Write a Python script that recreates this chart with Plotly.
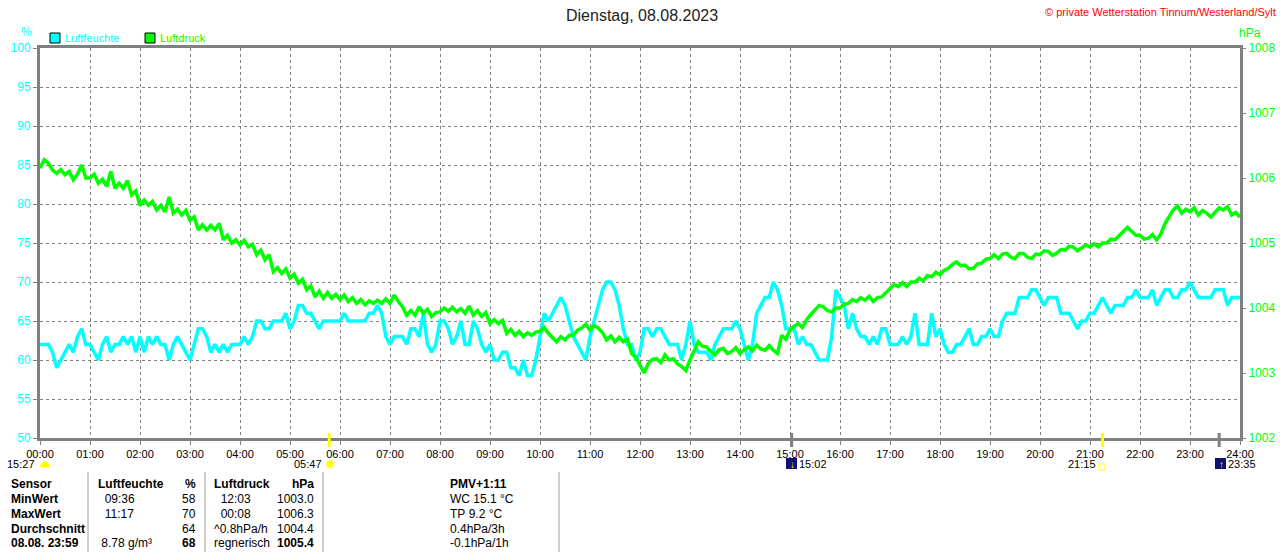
import plotly.graph_objects as go

# Luftfeuchte in %, alle 5 Minuten (00:00 .. 24:00)
humidity = [
    62, 62, 62, 61, 59, 60, 61, 62, 61, 63, 64, 62,
    62, 61, 60, 62, 63, 61, 62, 62, 63, 62, 63, 61,
    63, 61, 63, 62, 63, 62, 62, 60, 62, 63, 62, 61,
    60, 62, 64, 64, 63, 61, 62, 61, 62, 61, 62, 62,
    62, 63, 62, 63, 65, 65, 64, 64, 65, 65, 65, 66,
    64, 65, 67, 67, 66, 66, 65, 64, 65, 65, 65, 65,
    65, 66, 65, 65, 65, 65, 65, 66, 66, 67, 66, 63,
    62, 63, 63, 63, 62, 64, 64, 63, 66, 62, 61, 62,
    65, 65, 64, 62, 63, 65, 62, 62, 65, 64, 62, 61,
    62, 60, 60, 61, 61, 59, 59, 58, 60, 58, 58, 60,
    63, 66, 65, 66, 67, 68, 67, 65, 63, 62, 61, 60,
    63, 65, 67, 69, 70, 70, 69, 67, 64, 62, 62, 60,
    61, 64, 64, 63, 64, 64, 63, 62, 62, 62, 60, 62,
    65, 62, 61, 61, 61, 60, 62, 63, 64, 64, 64, 65,
    64, 62, 60, 62, 66, 67, 68, 68, 70, 69, 67, 64,
    64, 64, 62, 63, 62, 62, 61, 60, 60, 60, 63, 69,
    68, 67, 64, 66, 64, 63, 63, 62, 63, 62, 64, 64,
    62, 62, 62, 63, 62, 63, 66, 62, 62, 62, 66, 63,
    64, 62, 61, 61, 62, 62, 63, 64, 62, 62, 63, 63,
    64, 63, 63, 65, 66, 66, 66, 68, 68, 68, 69, 69,
    68, 67, 68, 68, 68, 66, 66, 66, 65, 64, 65, 65,
    66, 66, 67, 68, 67, 66, 67, 67, 67, 68, 68, 69,
    68, 68, 68, 69, 67, 68, 69, 69, 68, 68, 69, 69,
    70, 69, 68, 68, 68, 68, 69, 69, 69, 67, 68, 68,
    68,
]

# Luftdruck in hPa, alle 5 Minuten (00:00 .. 24:00)
pressure = [
    1006.15, 1006.28, 1006.23, 1006.12, 1006.07, 1006.13, 1006.05, 1006.10, 1005.97, 1006.06, 1006.20, 1006.00,
    1006.00, 1006.06, 1005.92, 1005.98, 1005.87, 1006.10, 1005.84, 1005.92, 1005.84, 1005.96, 1005.74, 1005.80,
    1005.58, 1005.66, 1005.58, 1005.64, 1005.51, 1005.58, 1005.48, 1005.71, 1005.46, 1005.52, 1005.43, 1005.50,
    1005.35, 1005.40, 1005.20, 1005.28, 1005.20, 1005.27, 1005.20, 1005.30, 1005.05, 1005.12, 1005.00, 1005.05,
    1004.97, 1005.04, 1004.94, 1004.98, 1004.82, 1004.89, 1004.74, 1004.82, 1004.56, 1004.62, 1004.53, 1004.60,
    1004.46, 1004.52, 1004.38, 1004.44, 1004.28, 1004.34, 1004.17, 1004.26, 1004.15, 1004.24, 1004.15, 1004.21,
    1004.13, 1004.20, 1004.10, 1004.16, 1004.07, 1004.13, 1004.05, 1004.11, 1004.07, 1004.12, 1004.07, 1004.14,
    1004.07, 1004.20, 1004.10, 1004.02, 1003.89, 1003.96, 1003.89, 1004.02, 1003.92, 1003.98, 1003.87, 1003.93,
    1003.94, 1004.00, 1003.95, 1004.01, 1003.94, 1003.99, 1003.92, 1004.03, 1003.89, 1003.96, 1003.87, 1003.93,
    1003.76, 1003.82, 1003.76, 1003.81, 1003.61, 1003.67, 1003.58, 1003.64, 1003.56, 1003.62, 1003.58, 1003.63,
    1003.64, 1003.70, 1003.61, 1003.55, 1003.48, 1003.56, 1003.51, 1003.58, 1003.58, 1003.66, 1003.69, 1003.75,
    1003.66, 1003.73, 1003.69, 1003.62, 1003.51, 1003.57, 1003.48, 1003.55, 1003.48, 1003.52, 1003.30, 1003.24,
    1003.12, 1003.00, 1003.15, 1003.21, 1003.22, 1003.16, 1003.28, 1003.20, 1003.22, 1003.14, 1003.10, 1003.04,
    1003.20, 1003.35, 1003.48, 1003.41, 1003.40, 1003.33, 1003.28, 1003.36, 1003.38, 1003.30, 1003.33, 1003.39,
    1003.30, 1003.36, 1003.40, 1003.34, 1003.43, 1003.37, 1003.35, 1003.42, 1003.35, 1003.30, 1003.58, 1003.52,
    1003.66, 1003.72, 1003.76, 1003.70, 1003.82, 1003.90, 1003.97, 1004.04, 1004.02, 1003.96, 1003.94, 1004.00,
    1004.00, 1004.06, 1004.07, 1004.13, 1004.10, 1004.16, 1004.12, 1004.18, 1004.10, 1004.16, 1004.17, 1004.24,
    1004.30, 1004.36, 1004.33, 1004.39, 1004.33, 1004.40, 1004.40, 1004.46, 1004.42, 1004.50, 1004.48, 1004.55,
    1004.51, 1004.58, 1004.61, 1004.67, 1004.71, 1004.65, 1004.66, 1004.60, 1004.61, 1004.68, 1004.69, 1004.75,
    1004.76, 1004.82, 1004.76, 1004.83, 1004.84, 1004.78, 1004.76, 1004.84, 1004.84, 1004.78, 1004.76, 1004.83,
    1004.82, 1004.88, 1004.87, 1004.81, 1004.84, 1004.90, 1004.89, 1004.95, 1004.94, 1004.88, 1004.92, 1004.97,
    1004.94, 1004.99, 1004.94, 1005.00, 1005.00, 1005.06, 1005.05, 1005.11, 1005.18, 1005.24, 1005.18, 1005.12,
    1005.12, 1005.06, 1005.07, 1005.13, 1005.05, 1005.14, 1005.30, 1005.40, 1005.51, 1005.57, 1005.46, 1005.52,
    1005.48, 1005.54, 1005.43, 1005.50, 1005.46, 1005.40, 1005.48, 1005.54, 1005.51, 1005.56, 1005.43, 1005.47,
    1005.40,
]

hour_ticks = list(range(25))
hour_labels = ["%02d:00" % h for h in hour_ticks]

# Sonne / Mond Ereignisse an der Zeitachse (Stunde)
event_hours = [5 + 47 / 60, 15 + 2 / 60, 21 + 15 / 60, 23 + 35 / 60]

# Tabelle unten
table_rows = [
    ["Sensor", "Luftfeuchte", "%", "Luftdruck", "hPa", "PMV+1:11"],
    ["MinWert", "  09:36", "58", "  12:03", "1003.0", "WC 15.1 °C"],
    ["MaxWert", "  11:17", "70", "  00:08", "1006.3", "TP 9.2 °C"],
    ["Durchschnitt", "", "64", "^0.8hPa/h", "1004.4", "0.4hPa/3h"],
    ["08.08. 23:59", " 8.78 g/m³", "68", "regnerisch", "1005.4", "-0.1hPa/1h"],
]

CYAN = "#00ffff"
GREEN = "#00ff00"
GREY = "#808080"
FONT = "Liberation Sans"

hum_x = [i / 12 for i in range(len(humidity))]
pres_x = [i / 12 for i in range(len(pressure))]


def px(x):
    return (x - 40) / 1200


def py(y):
    return (438 - y) / 390


def label(x, y, text, color="black", anchor="center", size=12):
    return dict(x=px(x), y=py(y), xref="paper", yref="paper", xanchor=anchor, yanchor="middle",
                text=text, showarrow=False, font=dict(size=size, color=color))


fig = go.Figure()
fig.add_trace(go.Scatter(x=pres_x, y=pressure, yaxis="y2", mode="lines",
                         line=dict(color=GREEN, width=3.5), name="Luftdruck"))
fig.add_trace(go.Scatter(x=hum_x, y=humidity, mode="lines",
                         line=dict(color=CYAN, width=3.5), name="Luftfeuchte"))

ann = []
shapes = []

ann.append(label(642, 15, "Dienstag, 08.08.2023", color="#222222", size=16))
ann.append(label(1278, 12, "© private Wetterstation Tinnum/Westerland/Sylt", color="#ff0000", anchor="right", size=11))
ann.append(label(26, 32, "%", color=CYAN))
ann.append(label(1250, 33, "hPa", color=GREEN))

# Legende
for x0, col, name in [(50, CYAN, "Luftfeuchte"), (145, GREEN, "Luftdruck")]:
    shapes.append(dict(type="rect", xref="paper", yref="paper", x0=px(x0), x1=px(x0 + 10),
                       y0=py(43), y1=py(33), fillcolor=col, line=dict(color="black", width=1)))
    ann.append(label(x0 + 13, 38, name, color=col, anchor="left", size=11))

# Markierungen Sonne / Mond an der Zeitachse
for h, col in zip(event_hours, ["#ffff00", GREY, "#ffff00", GREY]):
    shapes.append(dict(type="line", xref="x", yref="paper", x0=h, x1=h, y0=py(447), y1=py(433),
                       line=dict(color=col, width=3)))

ann.append(label(37, 464, "15:27", anchor="right", size=11))
shapes.append(dict(type="path", xref="paper", yref="paper",
                   path="M %f %f Q %f %f %f %f Z" % (px(40), py(467), px(45), py(456), px(50), py(467)),
                   fillcolor="#ffff00", line=dict(color="#ffff00", width=1)))
ann.append(label(324, 464, "05:47", anchor="right", size=11))
shapes.append(dict(type="circle", xref="paper", yref="paper", x0=px(326), x1=px(334), y0=py(468), y1=py(460),
                   fillcolor="#ffff00", line=dict(color="#ffff99", width=1)))
ann.append(label(797, 464, "15:02", anchor="left", size=11))
ann.append(label(1098, 464, "21:15", anchor="right", size=11))
shapes.append(dict(type="rect", xref="paper", yref="paper", x0=px(1099), x1=px(1105), y0=py(470), y1=py(464),
                   fillcolor="white", line=dict(color="#ffff00", width=1)))
ann.append(label(1226, 464, "23:35", anchor="left", size=11))
for x0, arrow in [(786, "↓"), (1215, "↑")]:
    shapes.append(dict(type="rect", xref="paper", yref="paper", x0=px(x0), x1=px(x0 + 11),
                       y0=py(469), y1=py(458), fillcolor="#101070", line=dict(width=0)))
    ann.append(label(x0 + 6, 464, "<b>%s</b>" % arrow, color="#ffff00", size=10))

# Tabelle
col_x = [(9, "left"), (96, "left"), (198, "right"), (212, "left"), (316, "right"), (448, "left")]
row_y = [484, 499, 514, 529, 543]
for r, row in enumerate(table_rows):
    for c, cell in enumerate(row):
        bold = r == 0 or c == 0 or (r == 4 and c in (2, 4))
        text = cell.replace(" ", "&nbsp;")
        if bold and cell:
            text = "<b>%s</b>" % text
        xpos, anchor = col_x[c]
        ann.append(label(xpos, row_y[r], text, anchor=anchor))
for xl in [88, 205, 323, 559]:
    shapes.append(dict(type="line", xref="paper", yref="paper", x0=px(xl), x1=px(xl), y0=py(560), y1=py(472),
                       line=dict(color="#a0a0a0", width=1)))

fig.update_layout(
    width=1280, height=552,
    margin=dict(l=40, r=40, t=48, b=114, autoexpand=False),
    plot_bgcolor="white", paper_bgcolor="white",
    font=dict(family=FONT, size=12, color="black"),
    showlegend=False,
    annotations=ann,
    shapes=shapes,
    xaxis=dict(range=[0, 24], tickvals=hour_ticks, ticktext=hour_labels, showgrid=True,
               gridcolor=GREY, griddash="3px,3px", gridwidth=1, showline=True, linecolor=GREY,
               linewidth=3, mirror=True, ticks="outside", ticklen=4, tickcolor=GREY,
               tickfont=dict(size=11, color="black"), zeroline=False),
    yaxis=dict(range=[50, 100], dtick=5, showgrid=True, gridcolor=GREY, griddash="3px,3px",
               showline=True, linecolor=GREY, linewidth=3, ticks="outside", ticklen=4,
               tickcolor=GREY, tickfont=dict(size=12, color=CYAN), zeroline=False),
    yaxis2=dict(range=[1002, 1008], dtick=1, overlaying="y", side="right", showgrid=False,
                showline=True, linecolor=GREY, linewidth=3, ticks="outside", ticklen=3,
                tickcolor=GREY, tickfont=dict(size=12, color=GREEN), zeroline=False),
)

fig.write_html("out.html", config={"displayModeBar": False},
               post_script="document.body.style.margin='0';document.body.style.overflow='hidden';")
